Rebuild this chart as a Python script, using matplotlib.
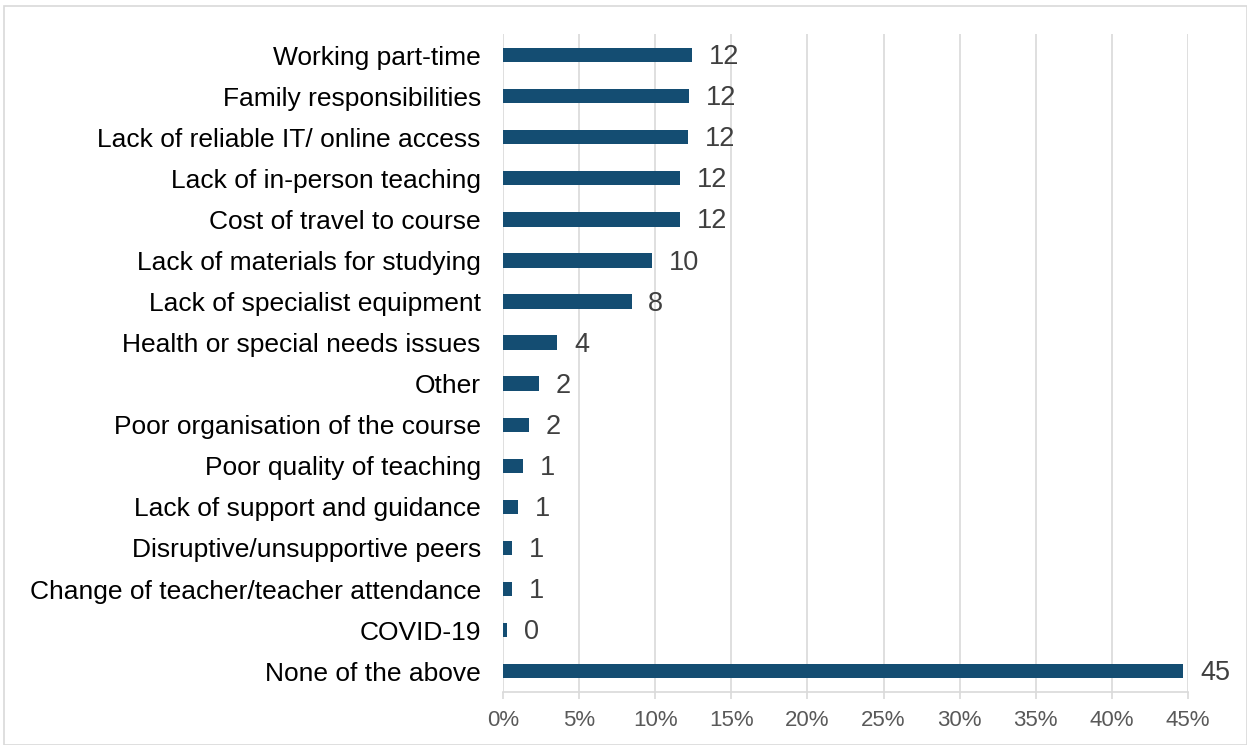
import matplotlib
matplotlib.use("Agg")
import matplotlib.pyplot as plt
from matplotlib.patches import Rectangle
from matplotlib.ticker import FuncFormatter

plt.rcParams["font.family"] = ["Liberation Sans", "DejaVu Sans"]

# barriers to study, % of respondents (top to bottom)
reasons = [
    "Working part-time",
    "Family responsibilities",
    "Lack of reliable IT/ online access",
    "Lack of in-person teaching",
    "Cost of travel to course",
    "Lack of materials for studying",
    "Lack of specialist equipment",
    "Health or special needs issues",
    "Other",
    "Poor organisation of the course",
    "Poor quality of teaching",
    "Lack of support and guidance",
    "Disruptive/unsupportive peers",
    "Change of teacher/teacher attendance",
    "COVID-19",
    "None of the above",
]
pct = [12.44, 12.24, 12.14, 11.65, 11.63, 9.77, 8.45, 3.57, 2.36, 1.72,
       1.32, 0.97, 0.62, 0.58, 0.29, 44.7]
xticks = [0, 5, 10, 15, 20, 25, 30, 35, 40, 45]

BAR = "#144d72"
GRID = "#d9d9d9"

fig = plt.figure(figsize=(12.47, 7.45), dpi=100)
fig.patches.append(Rectangle((0.003, 0.0), 0.997, 0.992, transform=fig.transFigure,
                             fill=False, edgecolor=GRID, lw=1.2))
ax = fig.add_axes([0.4034, 0.0715, 0.5493, 0.8822])

ypos = list(range(len(reasons)))
ax.barh(ypos, pct, height=0.35, color=BAR, zorder=3)
for y, v in zip(ypos, pct):
    ax.annotate(f"{v:.0f}", (v, y), xytext=(12, -1.5), textcoords="offset points",
                va="center", ha="left", fontsize=19.5, color="#404040")

ax.set_ylim(len(reasons) - 0.5, -0.5)
ax.set_xlim(0, 45)
ax.set_yticks(ypos)
ax.set_yticklabels(reasons, fontsize=19, color="#000000")
ax.tick_params(axis="y", length=0, pad=16)
ax.set_xticks(xticks)
ax.xaxis.set_major_formatter(FuncFormatter(lambda x, p: f"{x:.0f}%"))
ax.tick_params(axis="x", labelsize=16, labelcolor="#595959", colors=GRID,
               length=5, width=1.2, pad=8)
for lab in ax.get_xticklabels():
    lab.set_color("#595959")

ax.grid(axis="x", color=GRID, lw=1.2, zorder=0)
for s in ["top", "right", "left"]:
    ax.spines[s].set_visible(False)
ax.spines["bottom"].set_color(GRID)
ax.spines["bottom"].set_linewidth(1.2)

fig.savefig("out.png", dpi=100)
